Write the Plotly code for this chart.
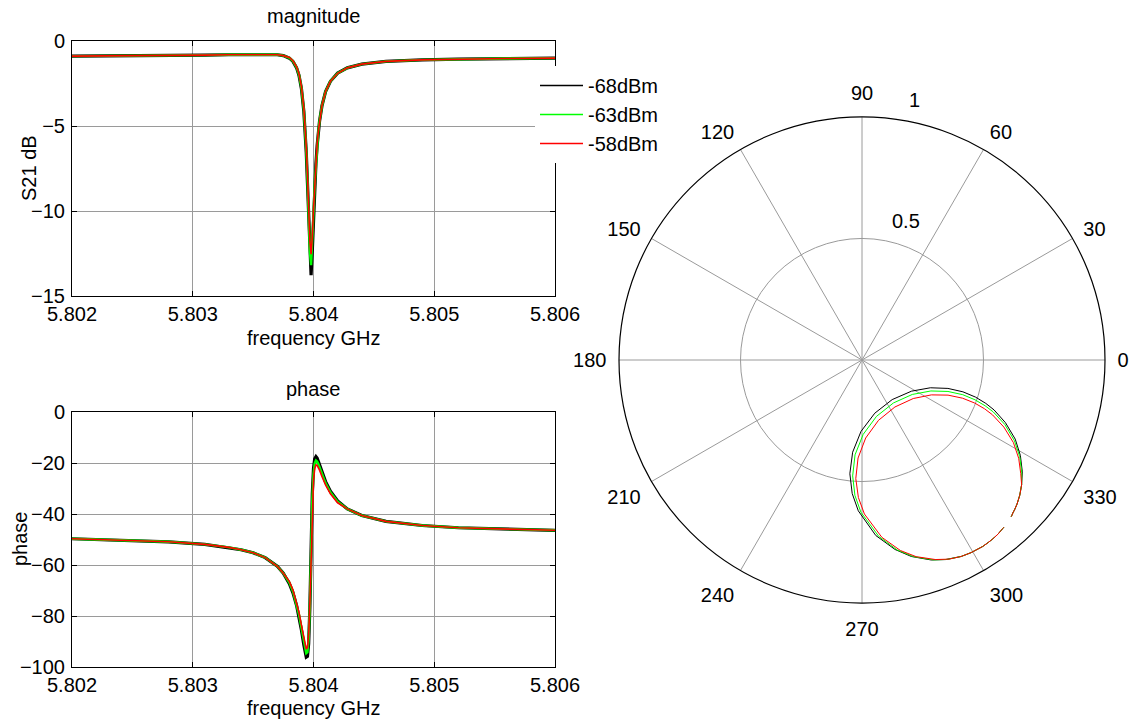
import numpy as np
import plotly.graph_objects as go

# Frequency sweep (GHz) shared by the three input powers
freq_ghz = [5.8020, 5.8024, 5.8028, 5.8031, 5.8033, 5.8034, 5.8035, 5.8036, 5.8037, 5.80375,
            5.8038, 5.80383, 5.80386, 5.80388, 5.8039, 5.80392, 5.80393, 5.80394, 5.80395, 5.80396,
            5.80397, 5.80398, 5.80399, 5.8040, 5.80401, 5.80402, 5.80403, 5.80404, 5.80405, 5.80407,
            5.8041, 5.80414, 5.8042, 5.80428, 5.8044, 5.8046, 5.8049, 5.8052, 5.8056, 5.8060]

# |S21| in dB
mag_m68 = [-0.89, -0.88, -0.86, -0.83, -0.81, -0.80, -0.79, -0.78, -0.81, -0.86,
           -1.01, -1.20, -1.58, -2.03, -2.80, -4.14, -5.18, -6.55, -8.37, -10.64,
           -12.95, -13.77, -12.37, -10.35, -8.58, -7.22, -6.17, -5.36, -4.72, -3.82,
           -2.98, -2.37, -1.89, -1.58, -1.36, -1.20, -1.11, -1.07, -1.03, -1.01]
mag_m63 = [-0.89, -0.88, -0.86, -0.83, -0.81, -0.80, -0.79, -0.78, -0.81, -0.86,
           -0.99, -1.18, -1.55, -1.99, -2.75, -4.06, -5.07, -6.40, -8.15, -10.28,
           -12.41, -13.19, -12.01, -10.15, -8.48, -7.16, -6.14, -5.34, -4.71, -3.81,
           -2.98, -2.37, -1.89, -1.58, -1.36, -1.20, -1.11, -1.07, -1.03, -1.01]
mag_m58 = [-0.89, -0.88, -0.86, -0.83, -0.81, -0.80, -0.79, -0.78, -0.81, -0.86,
           -0.97, -1.16, -1.52, -1.94, -2.68, -3.96, -4.94, -6.22, -7.88, -9.86,
           -11.79, -12.54, -11.57, -9.91, -8.35, -7.08, -6.09, -5.31, -4.69, -3.80,
           -2.98, -2.37, -1.90, -1.58, -1.36, -1.20, -1.11, -1.07, -1.03, -1.01]

# S21 phase in degrees
ph_m68 = [-49.7, -50.2, -50.9, -51.9, -53.1, -54.0, -55.2, -57.1, -60.5, -63.2,
          -67.3, -70.9, -75.9, -80.1, -85.5, -91.4, -94.2, -96.1, -95.8, -90.8,
          -76.5, -52.7, -32.2, -22.1, -18.3, -17.5, -18.1, -19.3, -20.7, -23.6,
          -27.3, -31.1, -34.9, -38.0, -40.6, -42.9, -44.5, -45.4, -46.0, -46.4]
ph_m63 = [-49.7, -50.2, -50.9, -51.9, -53.1, -54.0, -55.2, -57.1, -60.5, -63.2,
          -66.9, -70.4, -75.3, -79.5, -84.6, -90.4, -93.0, -94.6, -94.2, -89.1,
          -75.6, -53.8, -34.4, -24.2, -20.1, -19.0, -19.4, -20.4, -21.6, -24.3,
          -27.9, -31.5, -35.2, -38.0, -40.6, -42.9, -44.5, -45.4, -46.0, -46.4]
ph_m58 = [-49.7, -50.2, -50.9, -51.9, -53.1, -54.0, -55.2, -57.1, -60.5, -63.2,
          -66.4, -69.8, -74.6, -78.6, -83.6, -89.1, -91.5, -93.0, -92.3, -87.3,
          -74.7, -55.0, -36.9, -26.7, -22.2, -20.8, -20.9, -21.7, -22.8, -25.3,
          -28.6, -32.1, -35.6, -38.0, -40.6, -42.9, -44.5, -45.4, -46.0, -46.4]

series_names = ["-68dBm", "-63dBm", "-58dBm"]
series_colors = ["#000000", "#00ff00", "#ff0000"]
series_mag = [mag_m68, mag_m63, mag_m58]
series_phase = [ph_m68, ph_m63, ph_m58]
band_widths = [3.2, 2.4, 1.6]

freq_ticks = [5.802, 5.803, 5.804, 5.805, 5.806]
mag_ticks = [-15, -10, -5, 0]
phase_ticks = [-100, -80, -60, -40, -20, 0]
angle_ticks = list(range(0, 360, 30))
radial_ticks = [0.5, 1]

W, H = 1137, 722
FONT = "Liberation Sans, Arial, sans-serif"
FS = 20
GRID = "#9a9a9a"

fig = go.Figure()

for name, col, mag, ph, lw in zip(series_names, series_colors, series_mag, series_phase, band_widths):
    fig.add_trace(go.Scatter(x=freq_ghz, y=mag, mode="lines", line=dict(color=col, width=lw),
                             showlegend=False, xaxis="x", yaxis="y"))
    fig.add_trace(go.Scatter(x=freq_ghz, y=ph, mode="lines", line=dict(color=col, width=lw),
                             showlegend=False, xaxis="x2", yaxis="y2"))
    lin = 10 ** (np.array(mag) / 20.0)
    fig.add_trace(go.Scatterpolar(r=lin, theta=ph, mode="lines", line=dict(color=col, width=1),
                                  showlegend=False, subplot="polar"))

# thin-line legend entries
for name, col in zip(series_names, series_colors):
    fig.add_trace(go.Scatter(x=[None], y=[None], mode="lines", name=name,
                             line=dict(color=col, width=1.5), xaxis="x", yaxis="y"))

x_dom = [72 / W, 555 / W]
cart_axis = dict(showline=True, linecolor="black", linewidth=1, mirror="allticks",
                 ticks="inside", ticklen=5, tickcolor="black", showgrid=True,
                 gridcolor=GRID, gridwidth=1, zeroline=False, automargin=False,
                 tickfont=dict(family=FONT, size=FS, color="black"))

fig.update_layout(
    width=W, height=H, autosize=False,
    margin=dict(l=0, r=0, t=0, b=0, pad=0),
    paper_bgcolor="white", plot_bgcolor="white",
    font=dict(family=FONT, size=FS, color="black"),
    xaxis=dict(domain=x_dom, range=[5.802, 5.806], tickvals=freq_ticks, tickformat=".3f",
               anchor="y", ticklabelstandoff=0, **cart_axis),
    yaxis=dict(domain=[1 - 296 / H, 1 - 41 / H], range=[-15, 0], tickvals=mag_ticks,
               anchor="x", ticklabelstandoff=2, **cart_axis),
    xaxis2=dict(domain=x_dom, range=[5.802, 5.806], tickvals=freq_ticks, tickformat=".3f",
                anchor="y2", ticklabelstandoff=0, **cart_axis),
    yaxis2=dict(domain=[1 - 667 / H, 1 - 412 / H], range=[-100, 0], tickvals=phase_ticks,
                anchor="x2", ticklabelstandoff=2, **cart_axis),
    polar=dict(
        domain=dict(x=[619 / W, 1105 / W], y=[1 - 603 / H, 1 - 117 / H]),
        bgcolor="white",
        radialaxis=dict(range=[0, 1], tickvals=radial_ticks, showticklabels=False, ticks="",
                        showline=False, showgrid=True, gridcolor=GRID, gridwidth=1),
        angularaxis=dict(rotation=0, direction="counterclockwise", tickmode="array",
                         tickvals=angle_ticks, ticktext=[str(a) for a in angle_ticks],
                         showline=True, linecolor="black", linewidth=1.2,
                         showgrid=True, gridcolor=GRID, gridwidth=1,
                         ticks="outside", ticklen=8, tickcolor="rgba(0,0,0,0)",
                         tickfont=dict(family=FONT, size=FS, color="black")),
    ),
    legend=dict(x=535 / W, y=1 - 66 / H, xanchor="left", yanchor="top",
                bgcolor="white", borderwidth=0, itemwidth=43, tracegroupgap=0,
                font=dict(family=FONT, size=FS, color="black")),
)

# polar radial labels, placed at 82 degrees just outside each ring
cx, cy, R = 862, 360, 243
ann = []
for v in radial_ticks:
    rr = (v + 0.025) * R
    px = cx + rr * np.cos(np.radians(82))
    py = cy - rr * np.sin(np.radians(82))
    ann.append(dict(x=px / W, y=1 - py / H, text=f"{v:g}",
                    xanchor="left", yanchor="bottom", xshift=10))

xc = (x_dom[0] + x_dom[1]) / 2
ann += [
    dict(x=xc, y=1 - 16 / H, text="magnitude", xanchor="center", yanchor="middle"),
    dict(x=xc, y=1 - 389 / H, text="phase", xanchor="center", yanchor="middle"),
    dict(x=xc, y=1 - 338 / H, text="frequency GHz", xanchor="center", yanchor="middle"),
    dict(x=xc, y=1 - 708 / H, text="frequency GHz", xanchor="center", yanchor="middle"),
    dict(x=29 / W, y=1 - 168 / H, text="S21 dB", textangle=-90, xanchor="center", yanchor="middle"),
    dict(x=20 / W, y=1 - 539 / H, text="phase", textangle=-90, xanchor="center", yanchor="middle"),
]
for a in ann:
    a["xref"] = "paper"
    a["yref"] = "paper"
    a["showarrow"] = False
    a["font"] = dict(family=FONT, size=FS, color="black")
fig.update_layout(annotations=ann)

fig.write_html("out.html", include_plotlyjs=True, config={"displayModeBar": False})
